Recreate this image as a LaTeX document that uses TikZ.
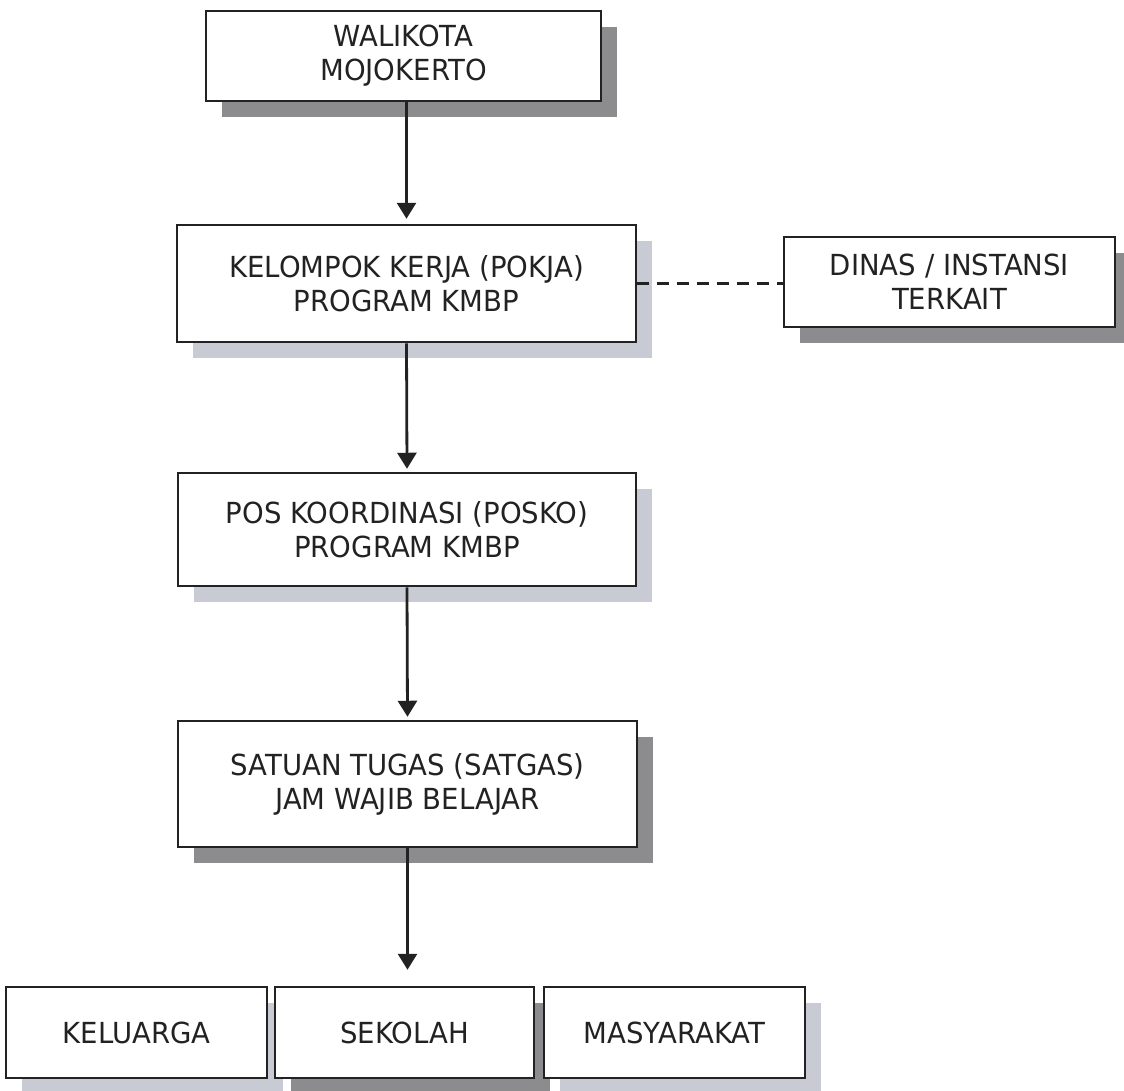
\documentclass[tikz,border=0pt]{standalone}
\usepackage{fontspec}
\setmainfont{DejaVu Sans}[FakeStretch=0.95]
\usetikzlibrary{arrows.meta,shadows}

\definecolor{darkshade}{RGB}{140,140,142}
\definecolor{lightshade}{RGB}{200,203,212}
\definecolor{inkcol}{RGB}{34,34,34}

\tikzset{
  orgbox/.style={draw=inkcol,fill=white,line width=2.5pt,inner sep=0pt,
    align=center,text=inkcol,font=\fontsize{29}{34}\selectfont},
  darkdrop/.style={drop shadow={shadow xshift=16pt,shadow yshift=-16pt,
    fill=darkshade,opacity=1}},
  lightdrop/.style={drop shadow={shadow xshift=16pt,shadow yshift=-16pt,
    fill=lightshade,opacity=1}},
  flow/.style={draw=inkcol,line width=2.8pt,-{Triangle[length=16pt,width=19pt]}},
  link/.style={draw=inkcol,line width=2.5pt,dash pattern=on 12pt off 8pt},
}

\begin{document}
\begin{tikzpicture}[x=1pt,y=-1pt]
  \useasboundingbox[fill=white] (0,0) rectangle (1124,1090);
%%
  % Node: walikota
  \node[orgbox,darkdrop,minimum width=395pt,minimum height=90pt] (wali) at (403.5,56)
    {WALIKOTA\\MOJOKERTO};
  % Node: pokja
  \node[orgbox,lightdrop,minimum width=459pt,minimum height=117pt] (pokja) at (406.5,283.5)
    {KELOMPOK KERJA (POKJA)\\PROGRAM KMBP};
  % Node: dinas
  \node[orgbox,darkdrop,minimum width=331pt,minimum height=90pt] (dinas) at (949.5,282)
    {DINAS / INSTANSI\\TERKAIT};
  % Node: posko
  \node[orgbox,lightdrop,minimum width=458pt,minimum height=113pt] (posko) at (407,529.5)
    {POS KOORDINASI (POSKO)\\PROGRAM KMBP};
  % Node: satgas
  \node[orgbox,darkdrop,minimum width=459pt,minimum height=126pt] (satgas) at (407.5,784)
    {SATUAN TUGAS (SATGAS)\\JAM WAJIB BELAJAR};
  % Nodes: keluarga, sekolah, masyarakat
  \node[orgbox,lightdrop,minimum width=261pt,minimum height=91pt] (keluarga) at (136.5,1032.5)
    {KELUARGA};
  \node[orgbox,darkdrop,minimum width=259pt,minimum height=91pt] (sekolah) at (404.5,1032.5)
    {SEKOLAH};
  \node[orgbox,lightdrop,minimum width=261pt,minimum height=91pt] (masy) at (674.5,1032.5)
    {MASYARAKAT};
%%
  % Edges
  \draw[flow,shorten >=5pt] (pokja.north |- wali.south) -- (pokja.north);
  \draw[flow,shorten >=3pt] (pokja.south) -- (posko.north);
  \draw[flow,shorten >=3pt] (posko.south) -- (satgas.north);
  \draw[flow,shorten >=16pt] (satgas.south) -- (satgas.south |- sekolah.north);
  \draw[link] (pokja.east) -- (pokja.east -| dinas.west);
%
\end{tikzpicture}
\end{document}
